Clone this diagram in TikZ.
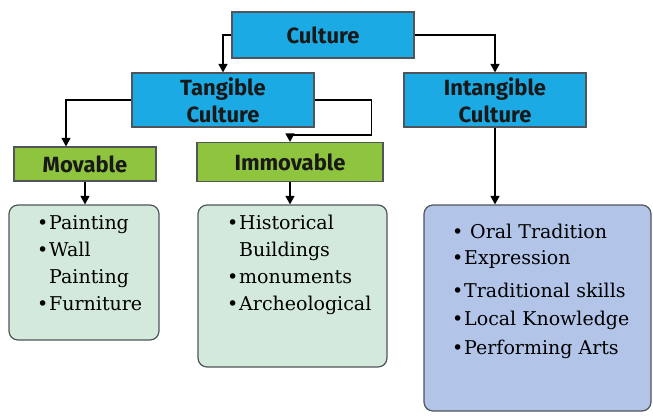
\documentclass[tikz,border=0pt]{standalone}
\usepackage{fontspec}
\setmainfont{DejaVu Serif}
\newfontfamily\headfont{Fira Sans}
\usetikzlibrary{arrows.meta}
\definecolor{headblue}{RGB}{28,170,228}
\definecolor{headgreen}{RGB}{142,196,62}
\definecolor{listmint}{RGB}{210,233,219}
\definecolor{listlilac}{RGB}{178,196,232}
\definecolor{rimgray}{RGB}{80,85,90}

\begin{document}
\begin{tikzpicture}[x=1pt,y=-1pt,->,>={Triangle[length=8.5pt,width=9pt]},line width=1.2pt]
  \tikzstyle{every node}=[inner sep=0pt]
  \tikzstyle{head}=[draw=rimgray,fill=headblue,align=center,text=black!90,
    font=\headfont\bfseries\fontsize{22}{27}\selectfont]
  \tikzstyle{kind}=[head,fill=headgreen]
  \tikzstyle{listbox}=[draw=rimgray,fill=listmint,rounded corners=9pt]
  \tikzstyle{items}=[anchor=north west,text=black,
    font=\fontsize{19}{27}\selectfont]

  \useasboundingbox (0,0) rectangle (653,416);

  % headings
  \node[head,minimum width=182pt,minimum height=46pt] (culture) at (323,35) {Culture};
  \node[head,minimum width=182pt,minimum height=54pt] (tangible) at (223,100) {Tangible\\Culture};
  \node[head,minimum width=182pt,minimum height=54pt] (intangible) at (495,100) {Intangible\\Culture};
  \node[kind,minimum width=142pt,minimum height=34pt] (movable) at (85,164) {Movable};
  \node[kind,minimum width=186pt,minimum height=39pt] (immovable) at (290,162) {Immovable};

  % boxes with the examples
  \node[listbox,minimum width=150pt,minimum height=135pt] (movlist) at (84,272.5) {};
  \node[listbox,minimum width=189pt,minimum height=162pt] (immlist) at (292.5,286) {};
  \node[listbox,fill=listlilac,minimum width=227pt,minimum height=206pt] (intlist) at (537.5,308) {};

  \node[items] (movitems) at ([xshift=28pt,yshift=-6pt]movlist.north west) {%
    \begin{tabular}{@{}l@{\hspace{1pt}}l@{}}
      \textbullet & Painting\\
      \textbullet & Wall\\
                  & Painting\\
      \textbullet & Furniture
    \end{tabular}};
  \node[items] (immitems) at ([xshift=29pt,yshift=-6pt]immlist.north west) {%
    \begin{tabular}{@{}l@{\hspace{1pt}}l@{}}
      \textbullet & Historical\\
                  & Buildings\\
      \textbullet & monuments\\
      \textbullet & Archeological
    \end{tabular}};
  \node[items] (intitems) at ([xshift=28pt,yshift=-15pt]intlist.north west) {%
    \begin{tabular}{@{}l@{\hspace{1pt}}l@{}}
      \textbullet & \ Oral Tradition\\[-1pt]
      \textbullet & Expression\\[6pt]
      \textbullet & Traditional skills\\[1pt]
      \textbullet & Local Knowledge\\[2pt]
      \textbullet & Performing Arts
    \end{tabular}};

  % connectors
  \draw (culture.west) -| (tangible.north);
  \draw (culture.east) -| (intangible.north);
  \draw (tangible.west) -| ([xshift=-19pt]movable.north);
  \draw (tangible.east) -- ++(57,0) |- ([yshift=7pt]immovable.north) -- (immovable.north);
  \draw (movable.south) -- (movable.south |- movlist.north);
  \draw (immovable.south) -- (immovable.south |- immlist.north);
  \draw (intangible.south) -- (intangible.south |- intlist.north);
\end{tikzpicture}
\end{document}
